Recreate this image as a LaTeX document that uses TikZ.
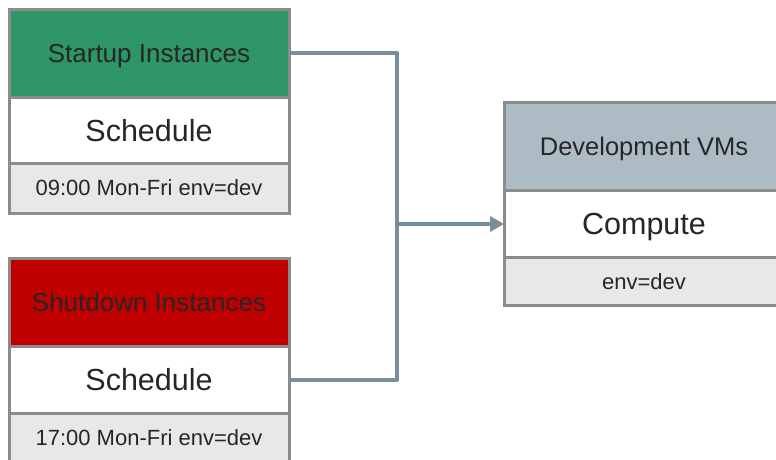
\documentclass[tikz,border=0pt]{standalone}
\usepackage{fontspec}
\setmainfont{Liberation Sans}
\usepackage{xcolor}
\usetikzlibrary{positioning, arrows.meta}

\definecolor{startgreen}{HTML}{2E9566}
\definecolor{stopred}{HTML}{C00000}
\definecolor{vmgrey}{HTML}{ADBCC4}
\definecolor{tagfill}{HTML}{E8E8E8}
\definecolor{edgegrey}{HTML}{8C8C8C}
\definecolor{linkblue}{HTML}{778F9C}
\definecolor{textdark}{HTML}{262626}

\begin{document}
\begin{tikzpicture}[x=1pt, y=-1pt,
		part/.style = {draw=edgegrey, line width=3pt, outer sep=0pt, minimum width=280pt, text=textdark, inner sep=0pt, text depth=0pt},
		head/.style = {part, minimum height=88pt, font=\fontsize{26}{30}\selectfont},
		body/.style = {part, fill=white, minimum height=66pt, font=\fontsize{30.5}{34}\selectfont},
		tag/.style = {part, fill=tagfill, minimum height=50pt, font=\fontsize{22}{26}\selectfont},
		link/.style = {draw=linkblue, line width=4pt, line join=round}]
	\clip (0,0) rectangle (776,459);
	\fill[white] (0,0) rectangle (776,459);
	% startup
	\node[head, fill=startgreen] (up) at (149,53) {Startup Instances};
	\node[body] (upsched) [below=0pt of up] {Schedule};
	\node[tag] (uptag) [below=0pt of upsched] {09:00 Mon-Fri env=dev};
	% shutdown
	\node[head, fill=stopred] (down) at (149,302) {Shutdown Instances};
	\node[body, minimum height=67pt] (downsched) [below=0pt of down] {Schedule};
	\node[tag] (downtag) [below=0pt of downsched] {17:00 Mon-Fri env=dev};
	% target
	\node[head, fill=vmgrey, font=\fontsize{25.5}{29}\selectfont] (vm) at (644,146.5) {Development VMs};
	\node[body, minimum height=67pt] (compute) [below=0pt of vm] {Compute};
	\node[tag, minimum height=48pt, font=\fontsize{22}{26}\selectfont] (vmtag) [below=0pt of compute] {env=dev};
	% links
	\coordinate (join) at (397,0 |- compute.west);
	\draw[link] (up.east) -| (join);
	\draw[link] (downsched.east) -| (join);
	\draw[link, -{Triangle[length=14pt, width=15pt]}] (join) -- (compute.west);
\end{tikzpicture}
\end{document}
